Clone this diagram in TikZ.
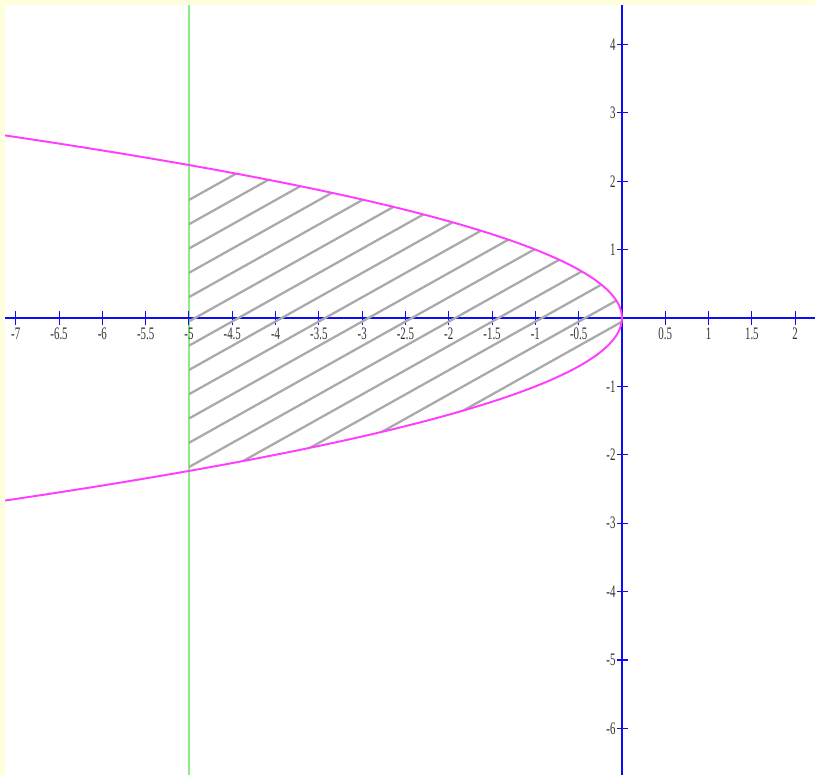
\documentclass[tikz,border=0pt]{standalone}
\usepackage{fontspec}
\setmainfont{Liberation Serif}
\usetikzlibrary{calc}
\definecolor{axisblue}{RGB}{12,12,245}
\definecolor{curvepink}{RGB}{255,60,255}
\definecolor{boundgreen}{RGB}{140,235,130}
\definecolor{hatchgray}{RGB}{170,170,170}
\definecolor{framecream}{RGB}{255,255,221}
\newcommand{\tlab}[1]{\scalebox{0.62}[1]{#1}}

\begin{document}
\begin{tikzpicture}[x=1.732cm, y=1.368cm,
  axisline/.style={draw=axisblue, line width=1.5pt},
  tickmark/.style={draw=axisblue, line width=0.6pt},
  curve/.style={draw=curvepink, line width=1.1pt},
  bound/.style={draw=boundgreen, line width=0.9pt},
  hatch/.style={draw=hatchgray, line width=1.3pt},
  xlab/.style={anchor=north, inner sep=0pt, font=\fontsize{10}{12}\selectfont, text=black!80},
  ylab/.style={anchor=east, inner sep=0pt, font=\fontsize{10}{12}\selectfont, text=black!80}
]
\useasboundingbox (-7.182,-6.681) rectangle (2.229,4.649);

% Boundary line x = -5.
\draw[bound] (-5,4.6) -- (-5,-6.681);

% Axes and ticks.
\draw[axisline] (-7.182,0) -- (2.229,0);
\draw[axisline] (0,4.6) -- (0,-6.681);
\foreach \t in {-7,-6.5,-6,-5.5,-5,-4.5,-4,-3.5,-3,-2.5,-2,-1.5,-1,-0.5,0.5,1,1.5,2}{
  \draw[tickmark] (\t,-0.1) -- (\t,0.1);
  \node[xlab] (x\t) at (\t,-0.14) {\tlab{\t}};
}
\foreach \t in {4,3,2,1,-1,-2,-3,-4,-5,-6}{
  \draw[tickmark] (-0.06,\t) -- (0.07,\t);
  \node[ylab] (y\t) at (-0.07,\t) {\tlab{\t}};
}

% Hatched region between x = -5 and x = -y^2.
\begin{scope}
  \clip (-5,-2.2361) -- (-5,2.2361)
    -- plot[domain=2.2361:-2.2361, samples=80] ({-(\x)*(\x)},{\x}) -- cycle;
  \foreach \k in {0,...,15}
    \draw[hatch] (-5,{1.725-0.355*\k}) -- ++(5.5,3.9);
\end{scope}

% Parabola x = -y^2.
\draw[curve] plot[domain=2.675:-2.675, samples=120] ({-(\x)*(\x)},{\x});

% Frame.
\fill[framecream] (-7.182,-6.681) rectangle (-7.124,4.649);
\fill[framecream] (-7.182,4.576) rectangle (2.229,4.649);
\end{tikzpicture}
\end{document}
